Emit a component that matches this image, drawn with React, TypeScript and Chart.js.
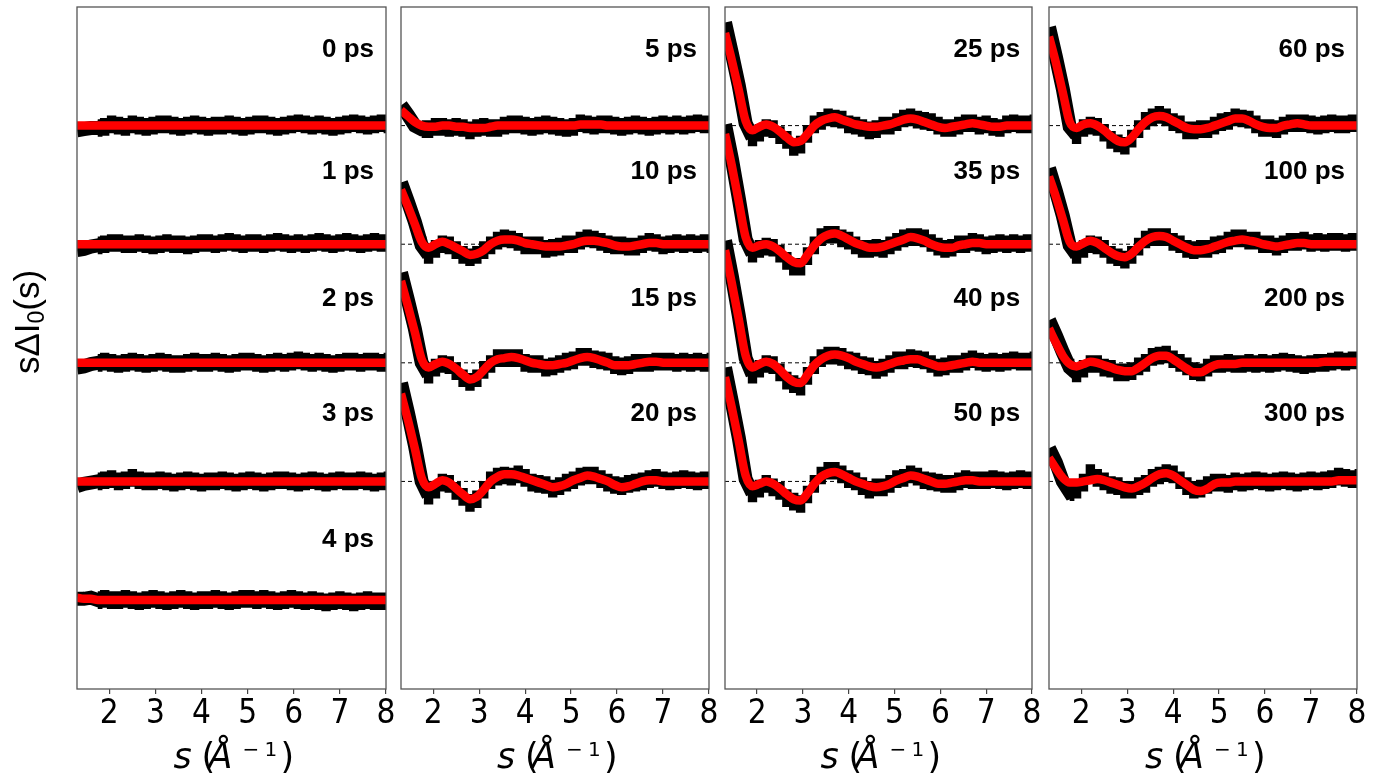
import React, { useEffect, useRef } from "react";
import { Chart, registerables } from "chart.js";

Chart.register(...registerables);

const W = 1386;
const H = 779;

// scattering vector grid (Å^-1)
const S = [
  1.30, 1.45, 1.60, 1.75, 1.90, 2.05, 2.20, 2.35, 2.50, 2.65,
  2.80, 2.95, 3.10, 3.25, 3.40, 3.55, 3.70, 3.85, 4.00, 4.15,
  4.30, 4.45, 4.60, 4.75, 4.90, 5.05, 5.20, 5.35, 5.50, 5.65,
  5.80, 5.95, 6.10, 6.25, 6.40, 6.55, 6.70, 6.85, 7.00, 7.15,
  7.30, 7.45, 7.60, 7.75, 7.90, 8.05,
];

const X_TICKS = [2, 3, 4, 5, 6, 7, 8];
const X_MIN = 1.3;
const X_MAX = 8;
const Y_MIN = -4.75;
const Y_MAX = 1.0;
const ROW_OFFSETS = [0, -1, -2, -3, -4];
const LABEL_RISE = [0.637, 0.609, 0.538, 0.568, 0.506];
const LABEL_X = 7.74;
const ERR = 0.064; // half-height of the measured-data error band
const STEEP_END = 3; // grid index where the steep rise ends

// fitted curves (hundredths of a trace spacing)
const FIT_FLAT = [
  0, 0, 0, 0, 0, 0, 0, 0, 0, 0,
  0, 0, 0, 0, 0, 0, 0, 0, 0, 0,
  0, 0, 0, 0, 0, 0, 0, 0, 0, 0,
  0, 0, 0, 0, 0, 0, 0, 0, 0, 0,
  0, 0, 0, 0, 0, 0,
];
const FIT_4PS = [
  2, 1, 1, 0, 0, 0, 0, 0, 0, 0,
  0, 0, 0, 0, 0, 0, 0, 0, 0, 0,
  0, 0, 0, 0, 0, 0, 0, 0, 0, 0,
  0, 0, 0, 0, 0, 0, 0, 0, 0, 0,
  0, 0, 0, 0, 0, 0,
];
const FIT_5PS = [
  13, 8, 3, 0, -1, -1, 0, 0, -1, -1,
  -2, -2, -2, -1, 0, 0, 0, 0, 0, 0,
  0, 0, 0, 0, 0, 0, 1, 1, 1, 1,
  0, 0, 0, 0, 0, 0, 0, 0, 0, 0,
  0, 0, 0, 0, 0, 0,
];
const FIT_10PS = [
  46, 32, 17, 2, -3, 0, 2, 0, -3, -6,
  -9, -8, -5, 0, 3, 4, 4, 3, 1, 0,
  -1, -2, -2, -2, -1, 0, 2, 3, 3, 2,
  1, -1, -2, -2, -1, 0, 1, 1, 0, 0,
  0, 0, 0, 0, 0, 0,
];
const FIT_15PS = [
  69, 48, 26, 3, -4, -1, 1, -1, -5, -10,
  -14, -12, -6, 0, 3, 4, 5, 4, 2, 0,
  -1, -2, -2, -1, 0, 2, 4, 5, 4, 2,
  0, -2, -2, -2, -1, 0, 1, 1, 0, 0,
  0, 0, 0, 0, 0, 0,
];
const FIT_20PS = [
  74, 52, 28, 3, -5, -2, 1, -1, -6, -11,
  -15, -13, -7, 0, 4, 6, 6, 5, 3, 1,
  -1, -3, -5, -4, -2, 1, 3, 5, 4, 2,
  0, -3, -5, -4, -2, 0, 1, 1, 0, 0,
  0, 0, 0, 0, 0, 0,
];
const FIT_25PS = [
  78, 55, 30, 4, -4, -1, 1, -1, -5, -10,
  -14, -13, -7, 0, 4, 6, 7, 5, 3, 1,
  0, -1, -1, 0, 1, 3, 5, 6, 5, 3,
  1, -1, -2, -1, 0, 1, 2, 1, 0, -1,
  -1, 0, 0, 0, 0, 0,
];
const FIT_35PS = [
  93, 66, 36, 6, -3, -1, 0, -2, -6, -11,
  -15, -16, -9, -1, 5, 8, 9, 7, 4, 1,
  -1, -3, -3, -2, 0, 2, 4, 6, 5, 3,
  0, -2, -3, -3, -1, 0, 1, 1, 0, 0,
  0, 0, 0, 0, 0, 0,
];
const FIT_40PS = [
  95, 67, 37, 6, -4, -1, 1, -1, -6, -12,
  -16, -17, -10, -2, 3, 6, 7, 6, 4, 1,
  -1, -3, -4, -3, -1, 1, 2, 3, 3, 1,
  -1, -3, -3, -2, -1, 0, 1, 0, 0, 0,
  0, 0, 0, 0, 0, 0,
];
const FIT_50PS = [
  88, 62, 34, 5, -4, -2, 0, -2, -6, -11,
  -15, -16, -10, -2, 4, 7, 8, 6, 3, 0,
  -2, -4, -5, -4, -2, 1, 3, 5, 4, 2,
  0, -2, -2, -1, 0, 1, 1, 0, 0, 0,
  0, 0, 0, 0, 0, 0,
];
const FIT_60PS = [
  75, 53, 28, 3, -2, 1, 2, 0, -4, -9,
  -13, -14, -10, -3, 3, 7, 8, 7, 4, 1,
  -2, -3, -3, -2, 0, 2, 4, 6, 6, 4,
  1, -1, -2, -2, 0, 1, 2, 1, 0, 0,
  0, 0, 0, 0, 0, 0,
];
const FIT_100PS = [
  57, 40, 21, 2, -2, 1, 3, 1, -3, -7,
  -10, -11, -8, -2, 3, 6, 7, 6, 3, 0,
  -3, -5, -5, -4, -2, 0, 2, 3, 4, 3,
  2, 0, -1, -2, -1, 0, 1, 1, 0, 0,
  0, 0, 0, 0, 0, 0,
];
const FIT_200PS = [
  29, 17, 6, -1, -3, -1, 1, 0, -2, -4,
  -6, -7, -7, -4, 0, 4, 6, 6, 3, -1,
  -5, -8, -8, -5, -2, -1, -1, -1, 0, 0,
  0, 0, 0, 0, 0, 0, 0, 0, 0, 0,
  1, 1, 1, 1, 1, 1,
];
const FIT_300PS = [
  20, 11, 3, -1, -1, 0, 1, 2, 1, -1,
  -3, -5, -6, -4, -1, 3, 6, 7, 5, 1,
  -3, -7, -8, -6, -2, -1, -1, 0, 0, 0,
  0, 0, 0, 0, 0, 0, 0, 0, 0, 0,
  0, 0, 1, 1, 1, 1,
];

// measured data minus fit (hundredths of a trace spacing)
const RES_0PS = [
  -4, -3, -2, -2, -1, 1, 0, -1, 1, 0,
  -1, 0, 1, 1, 0, -1, 0, 1, 0, -1,
  0, 0, 1, 0, -1, 0, 1, 1, 0, -1,
  0, 1, 2, 1, 0, 1, 0, -1, 0, 1,
  2, 1, 0, 1, 2, 1,
];
const RES_1PS = [
  -5, -4, -2, -1, 0, 1, 1, 0, 0, 1,
  0, -1, 0, 1, 0, 0, -1, 0, 1, 1,
  0, 1, 2, 1, 0, 1, 1, 0, 1, 2,
  1, 0, 1, 0, 1, 2, 1, 0, 1, 2,
  1, 0, 1, 2, 1, 1,
];
const RES_2PS = [
  -4, -3, -1, 0, 1, 0, -1, 0, 1, 0,
  -1, 0, 1, 0, -1, -1, 0, 1, 0, 0,
  1, 0, -1, 0, 1, 1, 0, -1, 0, 1,
  0, 1, 2, 1, 0, 1, 0, -1, 0, 1,
  1, 0, 1, 1, 0, 1,
];
const RES_3PS = [
  -4, -2, -1, 0, 1, 2, 0, 1, 3, 1,
  0, 0, 1, 0, -1, 0, 1, 0, -1, 0,
  0, 1, 0, -1, 0, 1, 0, -1, 0, 1,
  1, 0, -1, 0, 1, 0, -1, 0, 1, 0,
  0, 1, 0, -1, 0, 1,
];
const RES_4PS = [
  -1, 0, 1, 0, 1, 0, 0, 1, 0, -1,
  0, 1, 0, -1, 0, 1, 0, -1, 0, 0,
  1, 0, -1, 0, 1, 1, 0, 1, 0, -1,
  0, 1, 0, -1, 0, -1, -2, -1, 0, -1,
  -2, -1, 0, -1, -1, -1,
];
const RES_5PS = [
  4, 1, -3, -3, -2, 0, -1, -2, 0, -1,
  -2, 0, 1, -1, -2, 0, 1, 1, 0, -1,
  0, 1, 0, -1, -2, -1, 1, 0, -1, 0,
  1, 0, -1, 0, 1, 0, -1, 0, 1, 0,
  1, 0, 1, 2, 1, 1,
];
const RES_10PS = [
  6, 4, 2, -3, -6, -4, -2, -1, -2, -3,
  -2, -1, 0, -1, 0, 1, 0, -1, -2, -1,
  0, -2, -1, 0, 1, 0, 1, 2, 1, 0,
  -1, 0, 1, 0, -1, 0, 1, 0, -1, 0,
  1, 0, 1, 0, 1, 0,
];
const RES_15PS = [
  7, 5, 3, -3, -6, -3, -2, -1, -2, -3,
  -2, -1, 0, -1, 1, 0, -1, 0, -2, -1,
  0, -2, -1, 0, 1, 0, 1, 0, -1, 0,
  1, 0, -1, 0, 1, 0, -1, 0, 1, 1,
  0, 1, 0, 1, 0, 1,
];
const RES_20PS = [
  9, 6, 3, -3, -7, -5, -2, -1, -2, -2,
  -3, -2, 0, 1, 0, -1, -2, 1, 0, -2,
  -1, 0, -1, 0, 1, 0, 1, 0, 1, 0,
  -1, 0, 1, 2, 1, 0, 1, 2, 1, 0,
  1, 2, 1, 0, 1, 1,
];
const RES_25PS = [
  9, 6, 4, -2, -6, -5, -3, -2, -3, -2,
  -4, -3, 0, 1, 0, 1, -1, 0, -2, -1,
  -2, -3, -2, 0, -1, 0, 1, 1, 0, 1,
  2, 1, 0, -1, 0, 1, 0, -1, 1, 0,
  -1, 1, 2, 1, 1, 2,
];
const RES_35PS = [
  8, 6, 3, -2, -5, -3, -2, -1, -2, -3,
  -4, -3, -1, 0, 1, 0, -1, -2, -1, -2,
  -3, -1, 0, -2, -1, 0, 1, 0, 1, 2,
  1, 0, -1, 0, 1, 0, 1, 0, -1, 0,
  1, 0, 1, 0, 1, 1,
];
const RES_40PS = [
  8, 6, 3, -2, -6, -4, -2, -1, -2, -3,
  -2, -3, -1, 0, 1, 0, -1, -1, -2, 0,
  -1, 0, -2, -1, 0, 1, 0, 1, 0, 1,
  0, -1, 0, 1, 0, 1, 2, 1, 0, 1,
  0, 1, 2, 1, 1, 2,
];
const RES_50PS = [
  8, 5, 3, -3, -6, -4, -2, -3, -2, -3,
  -2, -3, -1, 0, 1, 2, 1, 0, -1, 0,
  -2, -3, 0, -1, 0, 1, 0, 1, 0, -1,
  0, 1, 0, -1, 0, 1, 0, 1, 1, 2,
  1, 0, 1, 2, 1, 1,
];
const RES_60PS = [
  8, 5, 3, -4, -6, -3, -2, -1, -2, -3,
  -2, -3, -1, 0, 1, 0, 1, 0, -1, 0,
  -2, -1, 0, -1, 0, 1, 0, 1, 0, 1,
  0, -1, 0, -1, 0, 1, 0, 1, 1, 0,
  1, 2, 1, 1, 2, 2,
];
const RES_100PS = [
  7, 5, 3, -3, -7, -5, -3, -2, -1, -2,
  -1, -2, -1, 0, 1, 0, -1, 0, -1, 0,
  -1, 0, 1, 0, 1, 0, 1, 2, 1, 0,
  1, 0, 1, 0, 1, 2, 1, 2, 1, 2,
  1, 2, 2, 1, 2, 2,
];
const RES_200PS = [
  7, 6, 3, -3, -6, -4, -2, -1, -2, -1,
  -2, -1, 0, 1, 0, 1, 0, 1, 0, 1,
  2, 1, 0, 1, 1, 0, 1, 0, -1, 0,
  -1, 0, -1, 0, 1, 0, -1, -2, -1, 0,
  -1, 0, 1, 0, 1, 1,
];
const RES_300PS = [
  8, 5, -3, -8, -6, -1, 6, 1, -1, -2,
  -1, -2, -1, 0, -1, 0, -1, 0, 1, 0,
  -1, 0, 2, 3, 1, 0, -1, 0, -1, 0,
  1, 0, -1, 0, 1, 0, -1, 0, 1, 0,
  1, 2, 3, 2, 1, 2,
];

const TRACE_LABELS = [
  "0 ps", "1 ps", "2 ps", "3 ps", "4 ps",
  "5 ps", "10 ps", "15 ps", "20 ps",
  "25 ps", "35 ps", "40 ps", "50 ps",
  "60 ps", "100 ps", "200 ps", "300 ps",
];
const TRACE_FITS = [
  FIT_FLAT, FIT_FLAT, FIT_FLAT, FIT_FLAT, FIT_4PS,
  FIT_5PS, FIT_10PS, FIT_15PS, FIT_20PS,
  FIT_25PS, FIT_35PS, FIT_40PS, FIT_50PS,
  FIT_60PS, FIT_100PS, FIT_200PS, FIT_300PS,
];
const TRACE_RES = [
  RES_0PS, RES_1PS, RES_2PS, RES_3PS, RES_4PS,
  RES_5PS, RES_10PS, RES_15PS, RES_20PS,
  RES_25PS, RES_35PS, RES_40PS, RES_50PS,
  RES_60PS, RES_100PS, RES_200PS, RES_300PS,
];
const PANEL_TRACES = [
  [0, 1, 2, 3, 4],
  [5, 6, 7, 8],
  [9, 10, 11, 12],
  [13, 14, 15, 16],
];

// layout (pixels)
const PANEL_LEFT = [77, 401, 725, 1049];
const PANEL_RIGHT = [386, 709, 1032, 1357];
const PLOT_TOP = 7;
const PLOT_BOTTOM = 689;

const TICK_FONT = "'DejaVu Sans Condensed', 'DejaVu Sans', sans-serif";
const TITLE_FAMILY = "'DejaVu Sans', sans-serif";
const LABEL_FONT = "bold 26px 'Liberation Sans', Arial, sans-serif";
const YLABEL_FAMILY = "'Liberation Sans', Arial, sans-serif";

function drawXTitle(ctx: CanvasRenderingContext2D, cx: number) {
  const base = 768;
  const pieces: [string, string, number, number][] = [
    ["s", `italic 35px ${TITLE_FAMILY}`, -58, base],
    ["(", `35px ${TITLE_FAMILY}`, -30, base],
    ["Å", `italic 35px ${TITLE_FAMILY}`, -23, base],
    ["\u2212", `20px ${TITLE_FAMILY}`, 11, 756],
    ["1", `20px ${TITLE_FAMILY}`, 33, 756],
    [")", `35px ${TITLE_FAMILY}`, 49, base],
  ];
  ctx.save();
  ctx.fillStyle = "#000";
  ctx.textAlign = "left";
  ctx.textBaseline = "alphabetic";
  for (const [t, f, dx, y] of pieces) {
    ctx.font = f;
    ctx.fillText(t, cx + dx, y);
  }
  ctx.restore();
}

function drawYLabel(ctx: CanvasRenderingContext2D) {
  ctx.save();
  ctx.translate(38.5, 322);
  ctx.rotate(-Math.PI / 2);
  ctx.fillStyle = "#000";
  ctx.textBaseline = "alphabetic";
  ctx.textAlign = "left";
  const main = `35px ${YLABEL_FAMILY}`;
  const sub = `23px ${YLABEL_FAMILY}`;
  const parts: [string, string, number][] = [
    ["s\u0394I", main, 0],
    ["0", sub, 5],
    ["(s)", main, 0],
  ];
  let total = 0;
  for (const [t, f] of parts) {
    ctx.font = f;
    total += ctx.measureText(t).width;
  }
  let x = -total / 2;
  for (const [t, f, dy] of parts) {
    ctx.font = f;
    ctx.fillText(t, x, dy);
    x += ctx.measureText(t).width;
  }
  ctx.restore();
}

function bandPair(pts: { x: number; y: number }[]): any[] {
  const upper = {
    data: pts.map((p) => ({ x: p.x, y: p.y + ERR })),
    borderColor: "#000",
    borderWidth: 2.5,
    pointRadius: 0,
    tension: 0,
    stepped: "middle",
    fill: false,
    order: 2,
    clip: 0,
  };
  const lower = {
    data: pts.map((p) => ({ x: p.x, y: p.y - ERR })),
    borderColor: "#000",
    borderWidth: 2.5,
    pointRadius: 0,
    tension: 0,
    stepped: "middle",
    fill: "-1",
    backgroundColor: "#000",
    order: 2,
    clip: 0,
  };
  return [upper, lower];
}

function makeConfig(p: number): any {
  const datasets: any[] = [];
  PANEL_TRACES[p].forEach((t, r) => {
    const off = ROW_OFFSETS[r];
    const fit = TRACE_FITS[t];
    const res = TRACE_RES[t];
    datasets.push({
      data: [
        { x: X_MIN, y: off },
        { x: X_MAX, y: off },
      ],
      borderColor: "#000",
      borderWidth: 1,
      borderDash: [4, 3],
      pointRadius: 0,
      order: 3,
      clip: 0,
    });
    const meas = S.map((x, i) => ({ x, y: off + (fit[i] + res[i]) / 100 }));
    // steep rise: measured points drawn as a heavy line
    datasets.push({
      data: meas.slice(0, STEEP_END + 2),
      borderColor: "#000",
      borderWidth: 14,
      pointRadius: 0,
      tension: 0,
      fill: false,
      order: 2,
      clip: 0,
    });
    // flatter region: error band
    datasets.push(...bandPair(meas.slice(STEEP_END)));
    datasets.push({
      data: S.map((x, i) => ({ x, y: off + fit[i] / 100 })),
      borderColor: "#ff0000",
      borderWidth: 8.5,
      pointRadius: 0,
      cubicInterpolationMode: "monotone",
      fill: false,
      order: 1,
      clip: 0,
    });
  });

  const panelPlugin = {
    id: "panelDecor" + p,
    afterDatasetsDraw(chart: any) {
      const { ctx, chartArea, scales } = chart;
      ctx.save();
      ctx.strokeStyle = "#555";
      ctx.lineWidth = 1.3;
      ctx.strokeRect(
        chartArea.left,
        chartArea.top,
        chartArea.right - chartArea.left,
        chartArea.bottom - chartArea.top
      );
      ctx.fillStyle = "#000";
      ctx.font = LABEL_FONT;
      ctx.textAlign = "right";
      ctx.textBaseline = "middle";
      PANEL_TRACES[p].forEach((t, r) => {
        const x = scales.x.getPixelForValue(LABEL_X);
        const y = scales.y.getPixelForValue(ROW_OFFSETS[r] + LABEL_RISE[r]);
        ctx.fillText(TRACE_LABELS[t], x, y);
      });
      ctx.restore();
    },
    afterDraw(chart: any) {
      const { ctx, chartArea } = chart;
      drawXTitle(ctx, (chartArea.left + chartArea.right) / 2);
      if (p === 0) drawYLabel(ctx);
    },
  };

  return {
    type: "line",
    data: { datasets },
    options: {
      responsive: false,
      animation: false,
      devicePixelRatio: 1,
      events: [],
      layout: {
        padding: {
          left: PANEL_LEFT[p],
          right: W - PANEL_RIGHT[p],
          top: PLOT_TOP,
          bottom: 0,
        },
      },
      plugins: {
        legend: { display: false },
        tooltip: { enabled: false },
        filler: { propagate: false },
      },
      scales: {
        x: {
          type: "linear",
          min: X_MIN,
          max: X_MAX,
          afterBuildTicks: (scale: any) => {
            scale.ticks = X_TICKS.map((v) => ({ value: v }));
          },
          afterFit: (scale: any) => {
            scale.height = H - PLOT_BOTTOM;
          },
          ticks: {
            color: "#000",
            font: { family: TICK_FONT, size: 33 },
            padding: 1,
            maxRotation: 0,
            autoSkip: false,
            callback: (v: any) => String(v),
          },
          grid: {
            display: true,
            drawOnChartArea: false,
            drawTicks: true,
            tickLength: 5,
            color: "#444",
            lineWidth: 1.2,
          },
          border: { display: false },
        },
        y: { display: false, min: Y_MIN, max: Y_MAX },
      },
    },
    plugins: [panelPlugin],
  };
}

function Panel({ index }: { index: number }) {
  const ref = useRef<HTMLCanvasElement>(null);
  useEffect(() => {
    const chart = new Chart(ref.current as HTMLCanvasElement, makeConfig(index));
    return () => chart.destroy();
  }, [index]);
  return (
    <canvas
      ref={ref}
      width={W}
      height={H}
      style={{ position: "absolute", left: 0, top: 0, width: W, height: H }}
    />
  );
}

export default function App() {
  return (
    <div
      style={{
        position: "absolute",
        left: 0,
        top: 0,
        width: W,
        height: H,
        background: "#fff",
        overflow: "hidden",
      }}
    >
      {[0, 1, 2, 3].map((i) => (
        <Panel key={i} index={i} />
      ))}
    </div>
  );
}
